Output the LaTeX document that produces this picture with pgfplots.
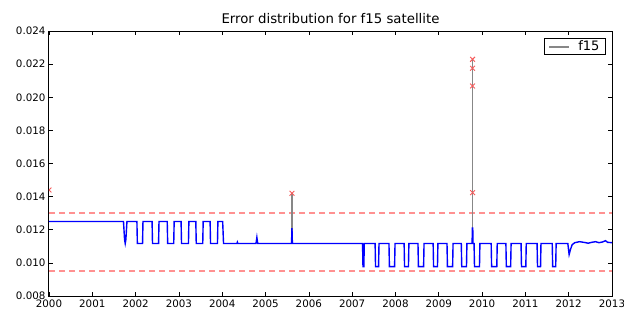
\documentclass[border=0pt]{standalone}
\usepackage{pgfplots}
\pgfplotsset{compat=1.18}
\usepackage{fontspec}
\setmainfont{DejaVu Sans}
\definecolor{mplred}{RGB}{245,90,90}
\definecolor{limred}{RGB}{255,145,145}
\definecolor{mplgray}{RGB}{135,135,135}
\begin{document}
\begin{tikzpicture}
\useasboundingbox (-49pt,-13pt) rectangle (575pt,296pt);
\begin{axis}[
  scale only axis,
  width=563pt, height=265pt,
  xmin=2000, xmax=2013, ymin=0.008, ymax=0.024,
  xtick={2000,2001,...,2013},
  ytick={0.008,0.010,0.012,0.014,0.016,0.018,0.020,0.022,0.024},
  scaled y ticks=false,
  /pgf/number format/assume math mode=true,
  xticklabel style={/pgf/number format/1000 sep={}},
  yticklabel style={/pgf/number format/.cd,fixed,fixed zerofill,precision=3},
  ticklabel style={font=\fontsize{10.3}{12}\selectfont},
  tick align=inside,
  major tick length=4pt,
  every tick/.style={black, line width=0.6pt},
  axis line style={line width=1pt},
  title={Error distribution for f15 satellite},
  title style={font=\fontsize{13.3}{16}\selectfont, yshift=-2pt},
  legend style={at={(1,1)}, anchor=north east, xshift=-6pt, yshift=-7pt,
    draw=black, line width=1pt, font=\fontsize{13}{15}\selectfont,
    inner xsep=4pt, inner ysep=0.5pt},
  legend image code/.code={\draw[#1] (0pt,0pt) -- (20pt,0pt);},
  legend cell align=left,
  unbounded coords=jump,
  clip marker paths=true,
]
% dashed limits
\addplot[forget plot, limred, solid, line width=1.5pt, dash pattern=on 6pt off 4pt] coordinates {(2000,0.013) (2013,0.013)};
\addplot[forget plot, limred, solid, line width=1.5pt, dash pattern=on 6pt off 4pt] coordinates {(2000,0.0095) (2013,0.0095)};
% gray raw series (spikes above filtered line)
\addplot[color=mplgray, line width=1.8pt] coordinates {
(2005.61,0.01117) (2005.61,0.0142) (2005.615,nan)
(2009.78,0.01117) (2009.78,0.02229)
};
\addlegendentry{\hspace{6pt}f15}
% blue filtered series
\addplot[forget plot, blue, line width=1.4pt] coordinates {
(2000.00,0.0125) (2001.72,0.0125) (2001.745,0.0114) (2001.76,0.01117) (2001.775,0.0114) (2001.80,0.0125)
(2002.03,0.0125) (2002.04,0.01117) (2002.16,0.01117) (2002.17,0.0125)
(2002.38,0.0125) (2002.39,0.01117) (2002.53,0.01117) (2002.54,0.0125)
(2002.73,0.0125) (2002.74,0.01117) (2002.88,0.01117) (2002.89,0.0125)
(2003.05,0.0125) (2003.06,0.01117) (2003.22,0.01117) (2003.23,0.0125)
(2003.39,0.0125) (2003.40,0.01117) (2003.55,0.01117) (2003.56,0.0125)
(2003.72,0.0125) (2003.73,0.01117) (2003.89,0.01117) (2003.90,0.0125)
(2004.01,0.0125) (2004.03,0.01117)
(2004.34,0.01117) (2004.35,0.01125) (2004.36,0.01117)
(2004.78,0.01117) (2004.80,0.01154) (2004.82,0.01117)
(2005.60,0.01117) (2005.61,0.0121) (2005.62,0.01117)
(2007.24,0.01117) (2007.25,0.00977) (2007.27,0.00977) (2007.28,0.01117)
(2007.53,0.01117) (2007.54,0.00977) (2007.61,0.00977) (2007.62,0.01117)
(2007.85,0.01117) (2007.86,0.00977) (2007.98,0.00977) (2007.99,0.01117)
(2008.20,0.01117) (2008.21,0.00977) (2008.30,0.00977) (2008.31,0.01117)
(2008.52,0.01117) (2008.53,0.00977) (2008.65,0.00977) (2008.66,0.01117)
(2008.87,0.01117) (2008.88,0.00977) (2008.97,0.00977) (2008.98,0.01117)
(2009.19,0.01117) (2009.20,0.00977) (2009.32,0.00977) (2009.33,0.01117)
(2009.52,0.01117) (2009.53,0.00977) (2009.64,0.00977) (2009.65,0.01117)
(2009.77,0.01117) (2009.775,0.0121) (2009.785,0.0121) (2009.79,0.01117)
(2009.815,0.01117) (2009.825,0.00977) (2009.94,0.00977) (2009.95,0.01117)
(2010.21,0.01117) (2010.22,0.00977) (2010.34,0.00977) (2010.35,0.01117)
(2010.55,0.01117) (2010.56,0.00977) (2010.66,0.00977) (2010.67,0.01117)
(2010.90,0.01117) (2010.91,0.00977) (2011.01,0.00977) (2011.02,0.01117)
(2011.27,0.01117) (2011.28,0.00977) (2011.35,0.00977) (2011.36,0.01117)
(2011.62,0.01117) (2011.63,0.00977) (2011.70,0.00977) (2011.71,0.01117)
(2011.98,0.01117) (2012.01,0.0105) (2012.04,0.0108) (2012.08,0.0111) (2012.14,0.01122)
(2012.25,0.01128) (2012.35,0.01124) (2012.45,0.01119) (2012.55,0.01125) (2012.62,0.01128)
(2012.70,0.01122) (2012.78,0.01126) (2012.85,0.01134) (2012.90,0.01124) (2013.00,0.01122)
};
% outlier markers
\addplot[forget plot, only marks, mark=x, mark size=3.4pt, color=mplred, mark options={line width=0.9pt}] coordinates {
(2000,0.0144) (2005.61,0.0142) (2009.78,0.02229) (2009.78,0.02175) (2009.78,0.02068) (2009.78,0.01424)
};
\end{axis}
\end{tikzpicture}
\end{document}
